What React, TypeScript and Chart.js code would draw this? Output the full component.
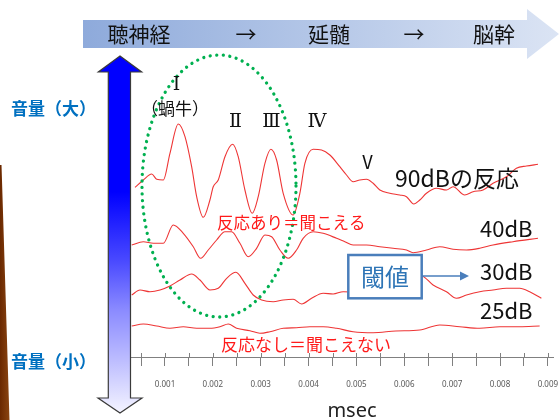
import React, { useEffect, useRef } from "react";
import { Chart, registerables } from "chart.js";

Chart.register(...registerables);

// ---- data (x in msec-axis units ×1000, y = response amplitude, arbitrary units) ----
const seriesNames = ["90dB", "40dB", "30dB", "25dB"];

const time90Ms = [0.374, 0.547, 0.722, 0.827, 0.965, 1.104, 1.278, 1.418, 1.557, 1.662, 1.8, 1.939, 2.008, 2.113, 2.253, 2.413, 2.53, 2.67, 2.823, 2.948, 3.088, 3.213, 3.332, 3.47, 3.678, 3.818, 3.923, 4.096, 4.271, 4.445, 4.653, 4.793, 4.931, 5.071, 5.211, 5.349, 5.489, 5.697, 5.906, 6.046, 6.198, 6.324, 6.463, 6.672, 6.881, 7.019, 7.263, 7.436, 7.645, 7.854, 8.134, 8.342, 8.551, 8.793];
const amp90 = [16.97, 17.7, 18.3, 17.77, 17.7, 20.37, 23.3, 22.03, 19.03, 16.03, 13.97, 15.7, 17.03, 17.7, 20.03, 21.27, 20.03, 16.7, 14.37, 16.03, 19.37, 20.77, 19.7, 16.37, 14.2, 16.37, 19.37, 20.77, 20.7, 20.2, 19.03, 18.2, 17.53, 17.7, 17.77, 17.37, 16.7, 16.37, 16.2, 16.03, 15.3, 15.7, 16.37, 16.87, 16.7, 17.03, 16.2, 16.53, 16.7, 17.37, 18.03, 18.87, 19.1, 19.27];

const time40Ms = [0.305, 0.547, 0.756, 0.965, 1.173, 1.382, 1.591, 1.745, 1.904, 2.079, 2.253, 2.392, 2.566, 2.739, 2.914, 3.088, 3.228, 3.401, 3.574, 3.749, 3.887, 4.096, 4.305, 4.585, 4.758, 4.931, 5.211, 5.489, 5.766, 6.046, 6.184, 6.463, 6.741, 7.019, 7.299, 7.576, 7.854, 8.271, 8.793];
const amp40 = [11.2, 11.53, 11.37, 11.37, 13.2, 12.37, 11.03, 9.87, 10.7, 11.7, 12.53, 12.53, 11.37, 10.03, 10.87, 12.2, 12.03, 10.7, 9.87, 10.7, 11.87, 12.53, 12.37, 11.87, 11.53, 11.2, 11.2, 11.03, 10.87, 10.7, 10.43, 10.7, 11.03, 10.77, 10.7, 10.87, 11.2, 11.53, 11.87];

const time30Ms = [0.305, 0.478, 0.687, 0.896, 1.104, 1.313, 1.557, 1.731, 1.939, 2.113, 2.288, 2.482, 2.67, 2.843, 3.019, 3.261, 3.47, 3.678, 3.854, 4.063, 4.305, 4.514, 4.722, 5.071, 5.489, 5.906, 6.359, 6.601, 6.881, 7.09, 7.299, 7.576, 7.854, 8.134, 8.411, 8.62, 8.864];
const amp30 = [6.2, 6.7, 6.53, 6.7, 7.1, 7.7, 8.3, 7.7, 6.7, 6.87, 7.87, 8.47, 7.37, 6.2, 5.7, 5.53, 5.7, 5.77, 5.3, 5.87, 6.37, 6.3, 6.53, 6.4, 5.9, 6.7, 8.1, 7.2, 6.53, 5.87, 6.2, 6.53, 6.7, 6.87, 6.87, 6.53, 5.87];

const time25Ms = [0.305, 0.547, 0.827, 1.104, 1.382, 1.662, 1.939, 2.148, 2.322, 2.497, 2.775, 2.983, 3.192, 3.47, 3.749, 4.027, 4.305, 4.585, 4.931, 5.349, 5.822, 6.324, 6.741, 7.158, 7.576, 7.994, 8.411, 8.828];
const amp25 = [3.1, 3.3, 3.1, 2.87, 3.03, 2.87, 2.87, 3.03, 3.3, 2.87, 2.63, 2.37, 2.53, 2.87, 2.93, 3.03, 3.03, 2.87, 2.53, 2.43, 2.6, 2.7, 3.2, 3.03, 2.87, 3.03, 3.03, 3.1];

const xTickValues = [0.0005, 0.001, 0.0015, 0.002, 0.0025, 0.003, 0.0035, 0.004, 0.0045, 0.005, 0.0055, 0.006, 0.0065, 0.007, 0.0075, 0.008, 0.0085, 0.009];
const xTickLabels = ["0.001", "0.002", "0.003", "0.004", "0.005", "0.006", "0.007", "0.008", "0.009"];
const xAxisTitle = "msec";
const X_MIN = 0.000269;
const X_MAX = 0.009107;
const Y_MIN = 0;
const Y_MAX = 25.7;

const TRACE_COLOR = "#ee3535";
const JP = '"Noto Sans CJK JP", "Noto Sans", sans-serif';

function txt(ctx: CanvasRenderingContext2D, s: string, x: number, y: number, font: string, color: string, align: CanvasTextAlign = "left") {
  ctx.font = font;
  ctx.fillStyle = color;
  ctx.textAlign = align;
  ctx.textBaseline = "middle";
  ctx.fillText(s, x, y);
}

const decorPlugin = {
  id: "abrDecor",
  beforeDraw(chart: any) {
    const ctx: CanvasRenderingContext2D = chart.ctx;
    ctx.save();
    ctx.fillStyle = "#ffffff";
    ctx.fillRect(0, 0, chart.width, chart.height);

    // brown slide stripe on the left edge
    const sg = ctx.createLinearGradient(0, 0, 10, 0);
    sg.addColorStop(0, "#6a2800");
    sg.addColorStop(1, "#8c4612");
    ctx.fillStyle = sg;
    ctx.beginPath();
    ctx.moveTo(0, 165);
    ctx.lineTo(1.5, 165);
    ctx.lineTo(9.5, 420);
    ctx.lineTo(0, 420);
    ctx.closePath();
    ctx.fill();

    // top banner arrow
    const bg = ctx.createLinearGradient(83, 0, 559, 0);
    bg.addColorStop(0, "#8eaadb");
    bg.addColorStop(1, "#dbe4f4");
    ctx.fillStyle = bg;
    ctx.beginPath();
    ctx.moveTo(83, 20);
    ctx.lineTo(527, 20);
    ctx.lineTo(527, 9);
    ctx.lineTo(559, 34);
    ctx.lineTo(527, 59);
    ctx.lineTo(527, 48);
    ctx.lineTo(83, 48);
    ctx.closePath();
    ctx.fill();

    const bf = `21px ${JP}`;
    txt(ctx, "聴神経", 139, 34, bf, "#111", "center");
    txt(ctx, "→", 246, 34, bf, "#111", "center");
    txt(ctx, "延髄", 329, 34, bf, "#111", "center");
    txt(ctx, "→", 414, 34, bf, "#111", "center");
    txt(ctx, "脳幹", 494, 34, bf, "#111", "center");
    ctx.restore();
  },
  afterDraw(chart: any) {
    const ctx: CanvasRenderingContext2D = chart.ctx;
    const area = chart.chartArea;
    const xs = chart.scales.x;
    ctx.save();

    // upper half of tick marks
    ctx.strokeStyle = "#808080";
    ctx.lineWidth = 1;
    xs.ticks.forEach((t: any) => {
      const px = Math.round(xs.getPixelForValue(t.value)) + 0.5;
      ctx.beginPath();
      ctx.moveTo(px, area.bottom - 4);
      ctx.lineTo(px, area.bottom);
      ctx.stroke();
    });

    // vertical axis line
    ctx.beginPath();
    ctx.moveTo(area.left + 0.5, 123);
    ctx.lineTo(area.left + 0.5, area.bottom);
    ctx.stroke();

    // axis title
    txt(ctx, xAxisTitle, 352, 411, `20px "Noto Sans", sans-serif`, "#222", "center");

    // big double arrow (volume)
    const ag = ctx.createLinearGradient(0, 56, 0, 413);
    ag.addColorStop(0, "#0000ff");
    ag.addColorStop(0.38, "#0000ff");
    ag.addColorStop(0.57, "#4848ff");
    ag.addColorStop(0.71, "#8a8aff");
    ag.addColorStop(0.85, "#bcbcff");
    ag.addColorStop(1, "#f4f4ff");
    ctx.beginPath();
    ctx.moveTo(120, 56);
    ctx.lineTo(141.7, 72);
    ctx.lineTo(130.5, 72);
    ctx.lineTo(130.5, 398);
    ctx.lineTo(142, 398);
    ctx.lineTo(120, 413);
    ctx.lineTo(98, 398);
    ctx.lineTo(108.3, 398);
    ctx.lineTo(108.3, 72);
    ctx.lineTo(98.3, 72);
    ctx.closePath();
    ctx.fillStyle = ag;
    ctx.fill();
    ctx.strokeStyle = "#3a3a3a";
    ctx.lineWidth = 1.2;
    ctx.stroke();

    // volume labels
    const vf = `bold 17px ${JP}`;
    txt(ctx, "音量（大）", 11, 108.5, vf, "#0070c0");
    txt(ctx, "音量（小）", 11, 361.5, vf, "#0070c0");

    // green dotted ellipse
    ctx.beginPath();
    ctx.ellipse(219, 186, 77, 131, 0, 0, Math.PI * 2);
    ctx.setLineDash([0.01, 6.6]);
    ctx.lineCap = "round";
    ctx.lineWidth = 3.3;
    ctx.strokeStyle = "#00b050";
    ctx.stroke();
    ctx.setLineDash([]);
    ctx.lineCap = "butt";

    // wave labels
    const rf = `19px "DejaVu Serif", serif`;
    txt(ctx, "Ⅰ", 176.5, 85, rf, "#111", "center");
    txt(ctx, "（蝸牛）", 175, 109, `17px ${JP}`, "#111", "center");
    txt(ctx, "Ⅱ", 235.5, 122.5, rf, "#111", "center");
    txt(ctx, "Ⅲ", 271.5, 122.5, rf, "#111", "center");
    txt(ctx, "Ⅳ", 317, 122.5, rf, "#111", "center");
    txt(ctx, "Ⅴ", 367.5, 162.5, `18px ${JP}`, "#111", "center");

    // level labels
    txt(ctx, "90dBの反応", 395, 178, `23px ${JP}`, "#111");
    txt(ctx, "40dB", 480, 229, `22px ${JP}`, "#111");
    txt(ctx, "30dB", 480, 271.5, `22px ${JP}`, "#111");
    txt(ctx, "25dB", 480, 311, `22px ${JP}`, "#111");

    // red notes
    txt(ctx, "反応あり＝聞こえる", 217, 223, `16.5px ${JP}`, "#ff1a1a");
    txt(ctx, "反応なし＝聞こえない", 221, 345, `17px ${JP}`, "#ff1a1a");

    // threshold box + arrow
    ctx.fillStyle = "#ffffff";
    ctx.fillRect(348.3, 255, 73.4, 43.3);
    ctx.strokeStyle = "#4a7ebb";
    ctx.lineWidth = 2.5;
    ctx.strokeRect(348.3, 255, 73.4, 43.3);
    txt(ctx, "閾値", 385, 277, `24px ${JP}`, "#2e75b6", "center");
    ctx.strokeStyle = "#4a7ebb";
    ctx.fillStyle = "#4a7ebb";
    ctx.lineWidth = 1.5;
    ctx.beginPath();
    ctx.moveTo(421.7, 276);
    ctx.lineTo(461, 276);
    ctx.stroke();
    ctx.beginPath();
    ctx.moveTo(469, 276);
    ctx.lineTo(460, 271.5);
    ctx.lineTo(460, 280.5);
    ctx.closePath();
    ctx.fill();

    ctx.restore();
  },
};

function toPoints(timesMs: number[], amps: number[]) {
  return timesMs.map((t, i) => ({ x: t / 1000, y: amps[i] }));
}

export default function App() {
  const canvasRef = useRef<HTMLCanvasElement | null>(null);

  useEffect(() => {
    if (!canvasRef.current) return;
    const series = [
      toPoints(time90Ms, amp90),
      toPoints(time40Ms, amp40),
      toPoints(time30Ms, amp30),
      toPoints(time25Ms, amp25),
    ];
    const chart = new Chart(canvasRef.current, {
      type: "line",
      data: {
        datasets: series.map((pts, i) => ({
          label: seriesNames[i],
          data: pts,
          borderColor: TRACE_COLOR,
          borderWidth: 1.1,
          pointRadius: 0,
          fill: false,
          cubicInterpolationMode: "monotone" as const,
        })),
      },
      options: {
        animation: false,
        responsive: false,
        devicePixelRatio: 1,
        layout: { padding: { left: 130, right: 7, top: 100, bottom: 0 } },
        plugins: { legend: { display: false }, tooltip: { enabled: false } },
        scales: {
          x: {
            type: "linear",
            min: X_MIN,
            max: X_MAX,
            afterBuildTicks: (scale: any) => {
              scale.ticks = xTickValues.map((v) => ({ value: v }));
            },
            ticks: {
              autoSkip: false,
              maxRotation: 0,
              minRotation: 0,
              padding: 0,
              color: "#595959",
              font: { family: "Noto Sans", size: 8, lineHeight: "38px" },
              callback: (value: any) => {
                const v = Number(value) * 1000;
                if (Math.abs(v - Math.round(v)) < 1e-6) {
                  const s = (Math.round(v) / 1000).toFixed(3);
                  return xTickLabels.includes(s) ? s : "";
                }
                return "";
              },
            },
            grid: { drawOnChartArea: false, drawTicks: true, tickLength: 9, color: "#808080" },
            border: { color: "#808080", width: 1 },
            title: {
              display: true,
              text: "",
              font: { family: "Noto Sans", size: 20, lineHeight: "16px" },
              padding: { top: 0, bottom: 0 },
            },
          },
          y: { display: false, min: Y_MIN, max: Y_MAX },
        },
      },
      plugins: [decorPlugin],
    } as any);
    return () => chart.destroy();
  }, []);

  return (
    <div style={{ position: "fixed", left: 0, top: 0, width: 560, height: 420, background: "#fff" }}>
      <canvas ref={canvasRef} width={560} height={420} style={{ display: "block", width: 560, height: 420 }} />
    </div>
  );
}
